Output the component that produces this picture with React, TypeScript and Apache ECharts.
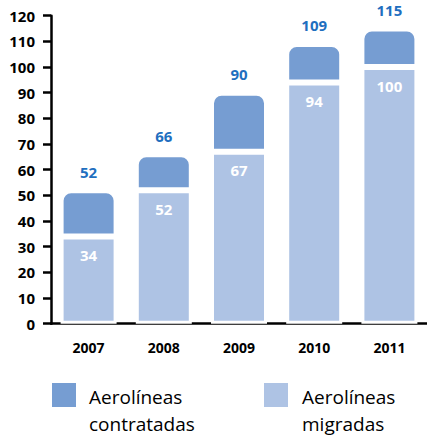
import React, { useEffect, useRef } from "react";
import * as echarts from "echarts";

const years = ["2007", "2008", "2009", "2010", "2011"];
const migradas = [34, 52, 67, 94, 100];
const contratadas = [18, 14, 23, 15, 15];
const totals = [52, 66, 90, 109, 115];
const seriesNames = ["Aerolíneas\ncontratadas", "Aerolíneas\nmigradas"];
const yTicks = [0, 120, 10];

const DARK = "#769dd2";
const LIGHT = "#aec3e4";
const FONT = "'Open Sans', 'Noto Sans', sans-serif";

export default function App() {
  const ref = useRef<HTMLDivElement>(null);
  useEffect(() => {
    if (!ref.current) return;
    const chart = echarts.init(ref.current, null, { renderer: "svg" });
    chart.setOption({
      animation: false,
      textStyle: { fontFamily: FONT },
      grid: { left: 51, right: -4.5, top: 15.7, bottom: 115.3, containLabel: false },
      xAxis: {
        type: "category",
        data: years,
        axisLine: { lineStyle: { color: "#000", width: 2.5 } },
        axisTick: { show: false },
        axisLabel: { color: "#000", fontWeight: "bold", fontSize: 14, margin: 17, fontFamily: FONT },
      },
      yAxis: {
        type: "value",
        min: yTicks[0],
        max: yTicks[1],
        interval: yTicks[2],
        splitLine: { show: false },
        axisLine: { show: true, lineStyle: { color: "#000", width: 2.5 } },
        axisTick: { show: true, length: 8, lineStyle: { color: "#000", width: 2.5 } },
        axisLabel: { color: "#000", fontWeight: "bold", fontSize: 15, margin: 16, fontFamily: FONT },
      },
      series: [
        {
          name: seriesNames[1],
          type: "bar",
          stack: "a",
          data: migradas,
          barWidth: 56,
          itemStyle: { color: LIGHT, borderColor: "#fff", borderWidth: 3 },
          label: {
            show: true,
            position: "insideTop",
            distance: 11,
            color: "#fff",
            fontWeight: "bold",
            fontSize: 15,
            fontFamily: FONT,
          },
        },
        {
          name: seriesNames[0],
          type: "bar",
          stack: "a",
          data: contratadas,
          barWidth: 56,
          itemStyle: { color: DARK, borderColor: "#fff", borderWidth: 3, borderRadius: [9, 9, 0, 0] },
          label: {
            show: true,
            position: "top",
            distance: 11,
            color: "#1f6fbf",
            fontWeight: "bold",
            fontSize: 15,
            lineHeight: 15,
            fontFamily: FONT,
            formatter: (p: any) => String(totals[p.dataIndex]),
          },
        },
      ],
      graphic: [
        { type: "rect", left: 52, top: 383, shape: { width: 24, height: 24 }, style: { fill: DARK } },
        {
          type: "text",
          left: 89,
          top: 383,
          style: { text: seriesNames[0], fill: "#000", fontSize: 19, lineHeight: 27, fontFamily: FONT },
        },
        { type: "rect", left: 264, top: 383, shape: { width: 24, height: 24 }, style: { fill: LIGHT } },
        {
          type: "text",
          left: 302,
          top: 383,
          style: { text: seriesNames[1], fill: "#000", fontSize: 19, lineHeight: 27, fontFamily: FONT },
        },
      ],
    });
    return () => chart.dispose();
  }, []);
  return <div ref={ref} style={{ width: 427, height: 439, position: "absolute", left: 0, top: 0 }} />;
}
